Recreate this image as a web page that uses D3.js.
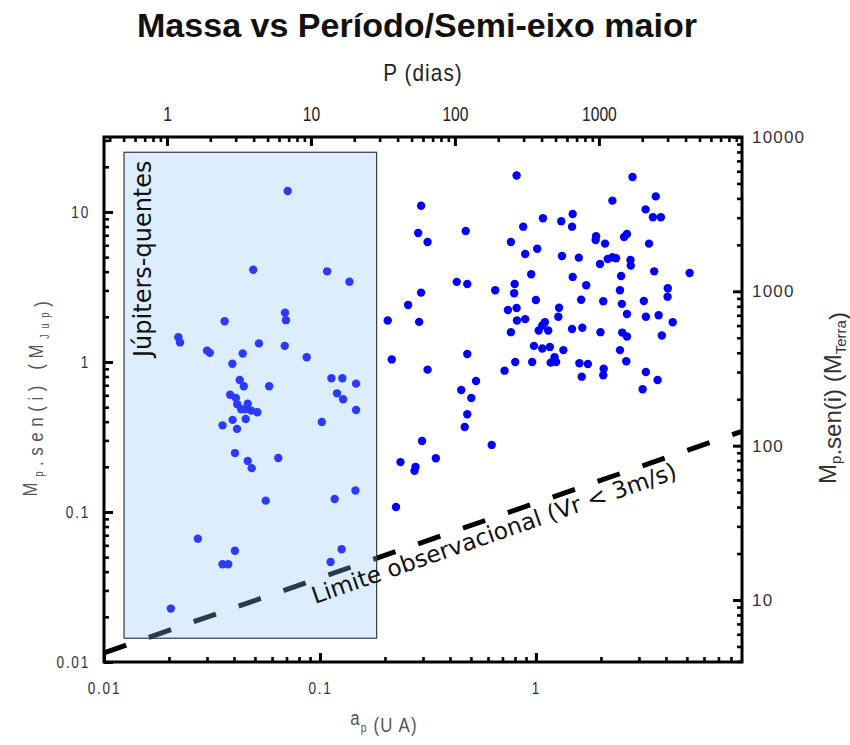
<!DOCTYPE html>
<html>
<head>
<meta charset="utf-8">
<script src="https://cdn.jsdelivr.net/npm/d3@7"></script>
<style>
  html, body { margin: 0; padding: 0; background: #fff; }
  svg { display: block; }
</style>
</head>
<body>
<svg id="chart" width="850" height="745"></svg>
<script>
// Semi-major axis (AU) of each known planet
const semiMajorAxis = [
  0.0709, 0.0491, 0.108, 0.137, 0.0362, 0.0689, 0.0696, 0.0221, 0.0225, 0.0300,
  0.0309, 0.0439, 0.0522, 0.0687, 0.0868, 0.0393, 0.0425, 0.0444, 0.0582, 0.113,
  0.127, 0.147, 0.0384, 0.0408, 0.120, 0.128, 0.0414, 0.0463, 0.0432, 0.0451,
  0.0481, 0.0513, 0.0394, 0.0453, 0.0354, 0.0413, 0.147, 0.102, 0.0404, 0.0463,
  0.0483, 0.0641, 0.0561, 0.117, 0.146, 0.0272, 0.0404, 0.0354, 0.0376, 0.126,
  0.112, 0.0204,
  0.814, 2.80, 3.59, 2.26, 3.22, 3.48, 3.79, 0.294, 0.285, 0.315,
  0.473, 1.078, 1.31, 1.48, 1.47, 0.873, 0.766, 1.014, 0.892, 1.32,
  1.58, 1.90, 1.89, 2.09, 2.56, 2.64, 3.34, 2.15, 2.26, 2.35,
  1.98, 2.74, 2.75, 5.15, 3.53, 2.48, 1.48, 0.951, 1.71, 2.45,
  4.08, 4.07, 3.16, 2.50, 2.05, 1.62, 1.00, 1.28, 1.27, 0.797,
  0.793, 0.814, 0.742, 0.892, 0.817, 0.766, 1.10, 1.07, 1.03, 1.14,
  1.47, 1.64, 1.99, 2.51, 2.64, 2.64, 3.23, 3.70, 4.30, 3.83,
  2.45, 2.62, 3.23, 3.66, 3.12, 2.06, 2.05, 1.63, 1.59, 1.74,
  1.34, 1.16, 1.07, 0.979, 1.22, 1.17, 1.24, 0.961, 0.802, 0.716,
  0.430, 0.481, 0.648, 0.294, 0.256, 0.206, 0.288, 0.215, 0.315, 0.481,
  0.528, 0.451, 0.502, 0.481, 0.468, 0.624, 0.297, 0.344, 0.236, 0.277,
  0.274, 0.225
];

// Minimum mass M sin(i) of each planet, in Jupiter masses
const massJup = [
  13.8, 4.12, 4.02, 3.43, 1.87, 2.13, 1.90, 1.46, 1.35, 1.19,
  1.15, 1.14, 1.33, 1.28, 1.075, 0.974, 0.759, 0.689, 0.689, 0.779,
  0.779, 0.717, 0.605, 0.575, 0.618, 0.564, 0.522, 0.527, 0.484, 0.484,
  0.474, 0.462, 0.411, 0.417, 0.378, 0.358, 0.479, 0.398, 0.247, 0.219,
  0.196, 0.229, 0.119, 0.122, 0.139, 0.0664, 0.0552, 0.0448, 0.0448, 0.0564,
  0.0464, 0.0227,
  17.5, 17.1, 12.7, 11.9, 10.4, 9.22, 9.22, 11.0, 7.24, 6.31,
  7.47, 9.08, 8.67, 9.70, 7.98, 7.98, 6.31, 5.69, 5.25, 5.09,
  4.96, 6.89, 6.51, 6.15, 6.81, 7.13, 6.15, 4.86, 4.99, 4.91,
  4.50, 4.79, 4.39, 3.92, 4.02, 3.74, 3.69, 3.84, 3.25, 3.01,
  3.10, 2.72, 2.55, 2.44, 2.54, 2.60, 2.59, 2.30, 2.00, 3.31,
  2.87, 2.29, 2.22, 1.93, 1.89, 1.58, 1.84, 1.75, 1.62, 1.62,
  1.66, 1.69, 1.58, 1.57, 1.48, 2.09, 2.00, 2.05, 1.84, 1.50,
  1.20, 1.01, 0.858, 0.759, 0.658, 0.902, 0.815, 0.798, 0.980, 0.970,
  1.20, 1.26, 1.23, 1.28, 1.075, 0.99, 1.00, 1.00, 1.00, 0.875,
  3.42, 3.31, 3.01, 2.90, 2.40, 1.89, 1.85, 1.04, 0.889, 1.13,
  0.747, 0.651, 0.575, 0.448, 0.369, 0.280, 0.297, 0.228, 0.215, 0.200,
  0.188, 0.108
];

// Detection limit (radial velocity amplitude 3 m/s): end points in (AU, M_Jup)
const limitAxis = [0.01, 9];
const limitMass = [0.0115, 0.345];

// Hot-Jupiter region (AU, M_Jup)
const hotZoneAxis = [0.01238, 0.183];
const hotZoneMass = [0.0144, 25];

// Tick labels
const axisTicks = [0.01, 0.1, 1];
const axisTickLabels = ["0.01", "0.1", "1"];
const massTicks = [0.01, 0.1, 1, 10];
const massTickLabels = ["0.01", "0.1", "1", "10"];
const periodTicks = [1, 10, 100, 1000];
const periodTickLabels = ["1", "10", "100", "1000"];
const earthTicks = [10, 100, 1000, 10000];
const earthTickLabels = ["10", "100", "1000", "10000"];

const SANS = "'Liberation Sans',Arial,sans-serif";
const DEJAVU = "'DejaVu Sans',Verdana,sans-serif";
const NARROW_K = 0.8;   // horizontal squeeze for the condensed lettering

const svg = d3.select("#chart");
const L = 104, R = 742, T = 137, B = 662;

const x = d3.scaleLog().domain([0.01, 9]).range([L, R]);
const y = d3.scaleLog().domain([0.01, 31.6]).range([B, T]);
const yEarth = d3.scaleLog().domain([3.965, 10000]).range([B, T]);
// orbital period in days from semi-major axis (solar-mass host)
const periodOf = a => 365.25 * Math.pow(a, 1.5);
const xPeriod = d3.scaleLog().domain([periodOf(0.01), periodOf(9)]).range([L, R]);

function minorTicks(scale) {
  const [lo, hi] = scale.domain();
  const out = [];
  for (let e = Math.floor(Math.log10(lo)); e <= Math.ceil(Math.log10(hi)); e++) {
    for (let k = 2; k <= 9; k++) {
      const v = +(k * Math.pow(10, e)).toPrecision(6);
      if (v > lo * 1.0001 && v < hi * 0.9999) out.push(v);
    }
  }
  return out;
}

// squeeze text horizontally while keeping its anchor point
function narrow(sel, k) {
  sel.each(function () {
    const t = d3.select(this);
    const x0 = +t.attr("x") || 0;
    t.attr("x", x0 / k).attr("transform", `scale(${k},1)`);
  });
}

// detection limit line
const lp0 = [x(limitAxis[0]), y(limitMass[0])];
const lp1 = [x(limitAxis[1]), y(limitMass[1])];
svg.append("line")
  .attr("x1", lp0[0]).attr("y1", lp0[1])
  .attr("x2", lp1[0]).attr("y2", lp1[1])
  .attr("stroke", "#000").attr("stroke-width", 5)
  .attr("stroke-dasharray", "23.5,24");

// planets
svg.append("g").selectAll("circle")
  .data(semiMajorAxis.map((a, i) => [a, massJup[i]]))
  .join("circle")
  .attr("cx", d => x(d[0]))
  .attr("cy", d => y(d[1]))
  .attr("r", 4.2)
  .attr("fill", "#0000ff");

// translucent hot-Jupiter box
svg.append("rect")
  .attr("x", x(hotZoneAxis[0]))
  .attr("y", y(hotZoneMass[1]))
  .attr("width", x(hotZoneAxis[1]) - x(hotZoneAxis[0]))
  .attr("height", y(hotZoneMass[0]) - y(hotZoneMass[1]))
  .attr("fill", "rgb(140,195,250)").attr("fill-opacity", 0.3)
  .attr("stroke", "#3a3a3a").attr("stroke-width", 1.2);

svg.append("text")
  .attr("transform", `translate(${x(hotZoneAxis[0]) + 27},${y(1.08)}) rotate(-90)`)
  .attr("font-family", DEJAVU).attr("font-size", 24)
  .attr("fill", "#111")
  .text("Júpiters-quentes");

// label along the detection limit
{
  const ang = Math.atan2(lp1[1] - lp0[1], lp1[0] - lp0[0]) * 180 / Math.PI;
  const lx = x(0.0875);
  const ly = lp0[1] + (lx - lp0[0]) * (lp1[1] - lp0[1]) / (lp1[0] - lp0[0]);
  svg.append("text")
    .attr("transform", `translate(${lx},${ly}) rotate(${ang})`)
    .attr("x", 0).attr("y", 23)
    .attr("font-family", DEJAVU).attr("font-size", 23.3)
    .attr("fill", "#111")
    .text("Limite observacional (Vr < 3m/s)");
}

// axes
const MAJOR = 9, MINOR = 5;
function addAxis(axisFn, scale, transform, major, labels, pad) {
  const gMinor = svg.append("g").attr("transform", transform)
    .call(axisFn(scale).tickValues(minorTicks(scale)).tickSize(-MINOR).tickFormat(""));
  const gMajor = svg.append("g").attr("transform", transform)
    .call(axisFn(scale).tickValues(major).tickSize(-MAJOR).tickPadding(pad)
      .tickFormat((d, i) => labels[i]));
  [gMinor, gMajor].forEach(g => {
    g.select(".domain").remove();
    g.selectAll("line").attr("stroke", "#000").attr("stroke-width", 2.6);
  });
  gMajor.selectAll("line").attr("stroke-width", 3);
  return gMajor;
}

const gBottom = addAxis(d3.axisBottom, x, `translate(0,${B})`, axisTicks, axisTickLabels, 20);
gBottom.attr("font-family", SANS).attr("font-size", 17);
gBottom.selectAll("text").attr("fill", "#333").attr("letter-spacing", 2.2).call(narrow, NARROW_K);

const gLeft = addAxis(d3.axisLeft, y, `translate(${L},0)`, massTicks, massTickLabels, 14);
gLeft.attr("font-family", SANS).attr("font-size", 17);
gLeft.selectAll("text").attr("fill", "#333").attr("letter-spacing", 2.2).call(narrow, NARROW_K);

const gTop = addAxis(d3.axisTop, xPeriod, `translate(0,${T})`, periodTicks, periodTickLabels, 16);
gTop.attr("font-family", SANS).attr("font-size", 19.5);
gTop.selectAll("text").attr("fill", "#222").call(narrow, NARROW_K);

const gRight = addAxis(d3.axisRight, yEarth, `translate(${R},0)`, earthTicks, earthTickLabels, 10);
gRight.attr("font-family", SANS).attr("font-size", 17);
gRight.selectAll("text").attr("fill", "#333").attr("letter-spacing", 1.2);

// frame
svg.append("rect")
  .attr("x", L).attr("y", T).attr("width", R - L).attr("height", B - T)
  .attr("fill", "none").attr("stroke", "#000").attr("stroke-width", 3);

// titles
svg.append("text")
  .attr("x", 417).attr("y", 37)
  .attr("text-anchor", "middle")
  .attr("font-family", SANS).attr("font-weight", "bold").attr("font-size", 34)
  .attr("textLength", 560).attr("lengthAdjust", "spacingAndGlyphs")
  .attr("fill", "#111")
  .text("Massa vs Período/Semi-eixo maior");

svg.append("g").attr("transform", "translate(423,81) scale(0.9,1)")
  .append("text")
  .attr("text-anchor", "middle")
  .attr("font-family", SANS).attr("font-size", 23)
  .attr("letter-spacing", 1.2)
  .attr("fill", "#222")
  .text("P (dias)");

function subTitle(sel, parts, bigSize, smallSize, drop) {
  parts.forEach(([txt, isSub]) => {
    sel.append("tspan")
      .attr("font-size", isSub ? smallSize : bigSize)
      .attr("dy", isSub ? drop : 0)
      .text(txt);
    if (isSub) sel.append("tspan").attr("dy", -drop).attr("font-size", bigSize).text("");
  });
}

const xTitle = svg.append("g").attr("transform", `translate(384,725) scale(${NARROW_K},1)`)
  .append("text")
  .attr("text-anchor", "middle")
  .attr("font-family", SANS).attr("fill", "#555")
  .attr("letter-spacing", 1.5);
subTitle(xTitle, [["a", false], ["p", true], [" (U A)", false]], 21, 13, 7);

const yTitle = svg.append("g").attr("transform", `translate(37,396) rotate(-90) scale(${NARROW_K},1)`)
  .append("text")
  .attr("text-anchor", "middle")
  .attr("font-family", SANS).attr("fill", "#555")
  .attr("letter-spacing", 7);
subTitle(yTitle, [["M", false], ["p", true], [".sen(i) (M", false], ["Jup", true], [")", false]], 21, 12, 6);

const y2Title = svg.append("text")
  .attr("transform", `translate(836,398) rotate(-90)`)
  .attr("text-anchor", "middle")
  .attr("font-family", SANS).attr("fill", "#333");
subTitle(y2Title, [["M", false], ["p", true], [".sen(i) (M", false], ["Terra", true], [")", false]], 24, 15, 5);
</script>
</body>
</html>
